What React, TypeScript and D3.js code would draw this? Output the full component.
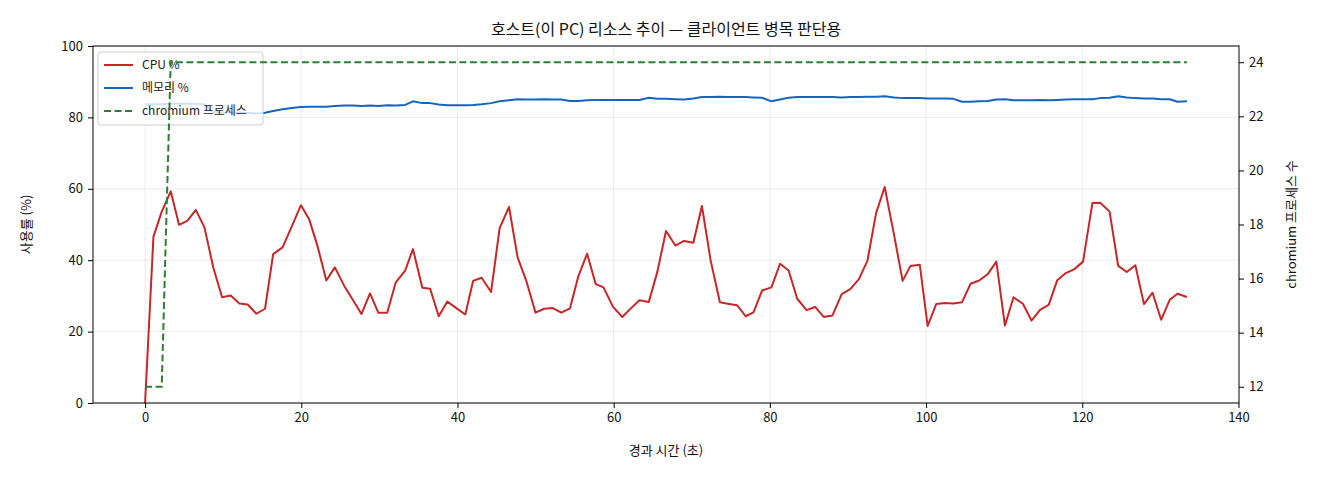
import * as d3 from "d3";
import { useEffect, useRef } from "react";

// 경과 시간 (초)
const times = [
  0, 1.07, 2.13, 3.28, 4.35, 5.4, 6.5, 7.6, 8.75, 9.86, 10.96, 12.07, 13.14, 14.25, 15.36, 16.4, 17.6, 18.77, 19.96, 21.0,
  22.1, 23.2, 24.3, 25.5, 26.6, 27.7, 28.8, 29.86, 31.0, 32.1, 33.3, 34.3, 35.5, 36.5, 37.6, 38.7, 39.9, 41.0, 42.0, 43.1,
  44.3, 45.4, 46.6, 47.7, 48.8, 50.0, 51.1, 52.2, 53.3, 54.4, 55.5, 56.6, 57.7, 58.7, 59.9, 61.1, 62.2, 63.3, 64.5, 65.6,
  66.7, 67.9, 69.0, 70.2, 71.3, 72.4, 73.6, 74.6, 75.8, 76.9, 77.9, 79.0, 80.2, 81.3, 82.4, 83.5, 84.7, 85.8, 86.9, 88.0,
  89.2, 90.3, 91.4, 92.5, 93.6, 94.7, 95.9, 97.0, 98.0, 99.2, 100.2, 101.3, 102.4, 103.5, 104.6, 105.7, 106.8, 107.9, 109.0, 110.1,
  111.2, 112.4, 113.5, 114.6, 115.7, 116.8, 117.9, 119.0, 120.1, 121.3, 122.3, 123.5, 124.6, 125.7, 126.8, 127.9, 129.0, 130.1, 131.2, 132.2,
  133.4,
];

const cpu = [
  0, 46.6, 53.6, 59.3, 49.9, 51.0, 54.1, 49.2, 37.8, 29.6, 30.1, 27.9, 27.6, 25.0, 26.4, 41.7, 43.6, 49.4, 55.4, 51.5,
  43.8, 34.3, 38.0, 32.8, 28.9, 24.9, 30.7, 25.3, 25.3, 33.8, 37.1, 43.1, 32.3, 32.0, 24.3, 28.4, 26.5, 24.8, 34.2, 35.1,
  31.1, 49.0, 54.9, 40.8, 34.3, 25.3, 26.4, 26.6, 25.3, 26.5, 35.7, 41.8, 33.3, 32.4, 27.0, 24.1, 26.5, 28.8, 28.3, 36.8,
  48.2, 44.1, 45.4, 44.9, 55.2, 40.1, 28.2, 27.8, 27.4, 24.3, 25.4, 31.5, 32.4, 39.0, 37.1, 29.2, 26.0, 26.9, 24.1, 24.5,
  30.5, 31.9, 34.7, 39.9, 53.2, 60.5, 47.1, 34.2, 38.4, 38.7, 21.6, 27.7, 28.0, 27.9, 28.2, 33.4, 34.3, 36.1, 39.6, 21.7,
  29.6, 27.8, 23.1, 26.1, 27.5, 34.4, 36.4, 37.5, 39.6, 56.0, 56.1, 53.6, 38.4, 36.7, 38.6, 27.7, 30.9, 23.3, 28.9, 30.6,
  29.7,
];

const memory = [
  83.6, 83.7, 83.7, 83.9, 83.9, 83.8, 83.8, 83.6, 81.6, 81.4, 81.3, 81.3, 81.2, 81.1, 81.3, 81.8, 82.3, 82.6, 82.9, 83.0,
  83.0, 83.0, 83.2, 83.3, 83.3, 83.2, 83.3, 83.2, 83.4, 83.3, 83.5, 84.5, 84.0, 84.0, 83.6, 83.4, 83.4, 83.4, 83.5, 83.7,
  84.0, 84.5, 84.8, 85.1, 85.0, 85.0, 85.1, 85.0, 85.0, 84.6, 84.6, 84.8, 84.9, 84.9, 84.9, 84.9, 84.9, 84.9, 85.5, 85.2,
  85.2, 85.1, 85.0, 85.3, 85.7, 85.7, 85.8, 85.7, 85.7, 85.7, 85.6, 85.5, 84.5, 85.0, 85.5, 85.7, 85.7, 85.7, 85.7, 85.7,
  85.6, 85.7, 85.7, 85.8, 85.8, 85.9, 85.6, 85.4, 85.4, 85.4, 85.3, 85.3, 85.3, 85.2, 84.4, 84.4, 84.5, 84.6, 85.0, 85.1,
  84.8, 84.8, 84.8, 84.9, 84.8, 84.9, 85.0, 85.1, 85.1, 85.1, 85.4, 85.5, 85.9, 85.6, 85.4, 85.3, 85.3, 85.1, 85.1, 84.4,
  84.5,
];

// chromium 프로세스 수: 처음 3샘플 12개, 이후 24개
const chromium = [
  12, 12, 12, 24, 24, 24, 24, 24, 24, 24, 24, 24, 24, 24, 24, 24, 24, 24, 24, 24,
  24, 24, 24, 24, 24, 24, 24, 24, 24, 24, 24, 24, 24, 24, 24, 24, 24, 24, 24, 24,
  24, 24, 24, 24, 24, 24, 24, 24, 24, 24, 24, 24, 24, 24, 24, 24, 24, 24, 24, 24,
  24, 24, 24, 24, 24, 24, 24, 24, 24, 24, 24, 24, 24, 24, 24, 24, 24, 24, 24, 24,
  24, 24, 24, 24, 24, 24, 24, 24, 24, 24, 24, 24, 24, 24, 24, 24, 24, 24, 24, 24,
  24, 24, 24, 24, 24, 24, 24, 24, 24, 24, 24, 24, 24, 24, 24, 24, 24, 24, 24, 24,
  24,
];

const xTicks = [0, 20, 40, 60, 80, 100, 120, 140];
const yTicks = [0, 20, 40, 60, 80, 100];
const y2Ticks = [12, 14, 16, 18, 20, 22, 24];

const legendItems = [
  { label: "CPU %", color: "#c62828", dash: null },
  { label: "메모리 %", color: "#1565c0", dash: null },
  { label: "chromium 프로세스", color: "#2e7d32", dash: "7,3.5" },
];

const FONT = "'Noto Sans CJK KR', 'Noto Sans', sans-serif";

export default function App() {
  const ref = useRef<SVGSVGElement>(null);

  useEffect(() => {
    const width = 1320;
    const height = 480;
    const m = { left: 93, right: 1239, top: 46, bottom: 403 };

    const svg = d3.select(ref.current);
    svg.selectAll("*").remove();
    svg
      .attr("width", width)
      .attr("height", height)
      .attr("viewBox", [0, 0, width, height])
      .style("font-family", FONT);

    svg.append("rect").attr("width", width).attr("height", height).attr("fill", "#fff");

    const x = d3.scaleLinear().domain([-6.67, 140.07]).range([m.left, m.right]);
    const y = d3.scaleLinear().domain([0, 100]).range([m.bottom, m.top]);
    const y2 = d3.scaleLinear().domain([11.4, 24.6]).range([m.bottom, m.top]);

    // grid
    const grid = svg.append("g").attr("stroke", "#b0b0b0").attr("stroke-opacity", 0.3).attr("stroke-width", 0.8);
    grid
      .selectAll("line.gx")
      .data(xTicks.filter((t) => x(t) < m.right - 1))
      .join("line")
      .attr("x1", (d) => x(d))
      .attr("x2", (d) => x(d))
      .attr("y1", m.top)
      .attr("y2", m.bottom);
    grid
      .selectAll("line.gy")
      .data(yTicks)
      .join("line")
      .attr("x1", m.left)
      .attr("x2", m.right)
      .attr("y1", (d) => y(d))
      .attr("y2", (d) => y(d));

    const idx = d3.range(times.length);

    const cpuLine = d3.line<number>().x((i) => x(times[i])).y((i) => y(cpu[i]));
    const memLine = d3.line<number>().x((i) => x(times[i])).y((i) => y(memory[i]));
    const chrLine = d3.line<number>().x((i) => x(times[i])).y((i) => y2(chromium[i]));

    svg
      .append("path")
      .attr("d", cpuLine(idx))
      .attr("fill", "none")
      .attr("stroke", legendItems[0].color)
      .attr("stroke-width", 2)
      .attr("stroke-linejoin", "round");
    svg
      .append("path")
      .attr("d", memLine(idx))
      .attr("fill", "none")
      .attr("stroke", legendItems[1].color)
      .attr("stroke-width", 2)
      .attr("stroke-linejoin", "round");

    // legend (belongs to left axis, so the twin-axis line sits above it)
    const lg = svg.append("g").attr("transform", "translate(98,52)");
    lg.append("rect")
      .attr("width", 165)
      .attr("height", 73)
      .attr("rx", 3)
      .attr("fill", "#fff")
      .attr("fill-opacity", 0.8)
      .attr("stroke", "#cccccc")
      .attr("stroke-width", 1);
    const items = lg
      .selectAll("g.item")
      .data(legendItems)
      .join("g")
      .attr("transform", (_, i) => `translate(0,${13 + i * 23})`);
    items
      .append("line")
      .attr("x1", 6)
      .attr("x2", 35)
      .attr("stroke", (d) => d.color)
      .attr("stroke-width", 2)
      .attr("stroke-dasharray", (d) => d.dash ?? null);
    items
      .append("text")
      .attr("x", 44)
      .attr("dy", "0.35em")
      .attr("font-size", 12)
      .attr("fill", "#222")
      .text((d) => d.label);

    svg
      .append("path")
      .attr("d", chrLine(idx))
      .attr("fill", "none")
      .attr("stroke", legendItems[2].color)
      .attr("stroke-width", 2)
      .attr("stroke-dasharray", "7,3.5");

    // axes
    const tickFont = 13;
    const xAxis = svg.append("g").attr("transform", `translate(0,${m.bottom})`);
    xAxis.call(d3.axisBottom(x).tickValues(xTicks).tickSize(5).tickPadding(5));
    const yAxis = svg.append("g").attr("transform", `translate(${m.left},0)`);
    yAxis.call(d3.axisLeft(y).tickValues(yTicks).tickSize(5).tickPadding(5));
    const y2Axis = svg.append("g").attr("transform", `translate(${m.right},0)`);
    y2Axis.call(d3.axisRight(y2).tickValues(y2Ticks).tickSize(5).tickPadding(5));

    [xAxis, yAxis, y2Axis].forEach((a) => {
      a.select(".domain").remove();
      a.selectAll("line").attr("stroke", "#000").attr("stroke-width", 1);
      a.selectAll("text").attr("font-family", FONT).attr("font-size", tickFont).attr("fill", "#111");
    });

    // frame
    svg
      .append("rect")
      .attr("x", m.left)
      .attr("y", m.top)
      .attr("width", m.right - m.left)
      .attr("height", m.bottom - m.top)
      .attr("fill", "none")
      .attr("stroke", "#000")
      .attr("stroke-width", 1);

    // labels
    svg
      .append("text")
      .attr("x", (m.left + m.right) / 2)
      .attr("y", 35)
      .attr("text-anchor", "middle")
      .attr("font-size", 16)
      .attr("fill", "#111")
      .text("호스트(이 PC) 리소스 추이 — 클라이언트 병목 판단용");
    svg
      .append("text")
      .attr("x", (m.left + m.right) / 2)
      .attr("y", 455)
      .attr("text-anchor", "middle")
      .attr("font-size", 13)
      .attr("fill", "#111")
      .text("경과 시간 (초)");
    svg
      .append("text")
      .attr("transform", `translate(31,${(m.top + m.bottom) / 2}) rotate(-90)`)
      .attr("text-anchor", "middle")
      .attr("font-size", 13)
      .attr("fill", "#111")
      .text("사용률 (%)");
    svg
      .append("text")
      .attr("transform", `translate(1296,${(m.top + m.bottom) / 2}) rotate(-90)`)
      .attr("text-anchor", "middle")
      .attr("font-size", 13)
      .attr("fill", "#111")
      .text("chromium 프로세스 수");
  }, []);

  return <svg ref={ref} style={{ position: "absolute", left: 0, top: 0 }}></svg>;
}
